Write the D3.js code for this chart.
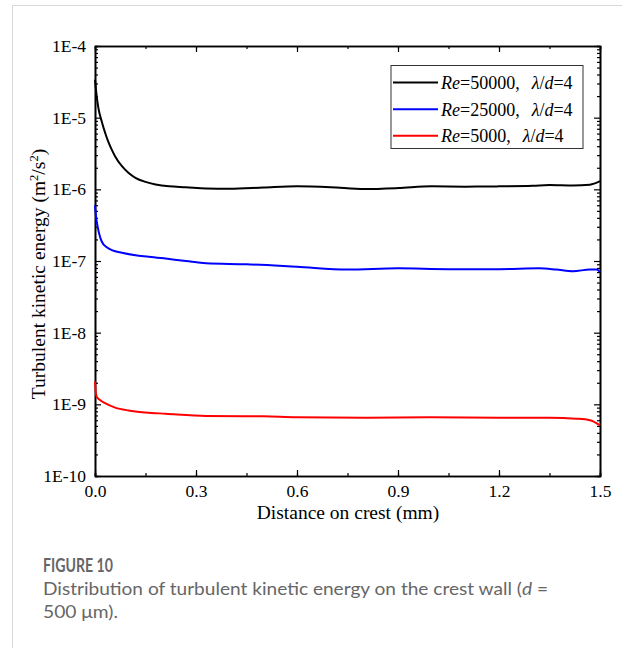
<!DOCTYPE html>
<html><head><meta charset="utf-8">
<script src="https://cdn.jsdelivr.net/npm/d3@7/dist/d3.min.js"></script>
<style>body{margin:0;background:#fff}svg{display:block}</style>
</head><body>
<script>
// ---- data ----
const xBlack = [0, 0.005, 0.01, 0.02, 0.03, 0.04, 0.05, 0.06, 0.08, 0.10, 0.12, 0.15, 0.18, 0.22, 0.27, 0.33, 0.4, 0.5, 0.6, 0.7, 0.8, 0.9, 1.0, 1.1, 1.2, 1.3, 1.35, 1.42, 1.47, 1.5];
const yBlack = [3.4e-5, 2.0e-5, 1.37e-5, 8.85e-6, 6.16e-6, 4.55e-6, 3.55e-6, 2.88e-6, 2.1e-6, 1.69e-6, 1.45e-6, 1.27e-6, 1.17e-6, 1.1e-6, 1.07e-6, 1.03e-6, 1.02e-6, 1.06e-6, 1.1e-6, 1.07e-6, 1.01e-6, 1.04e-6, 1.1e-6, 1.09e-6, 1.1e-6, 1.12e-6, 1.15e-6, 1.13e-6, 1.16e-6, 1.3e-6];
const xBlue = [0, 0.003, 0.008, 0.02, 0.035, 0.05, 0.08, 0.12, 0.16, 0.21, 0.27, 0.33, 0.45, 0.6, 0.75, 0.9, 1.05, 1.2, 1.32, 1.37, 1.42, 1.47, 1.49, 1.5];
const yBlue = [6.0e-7, 4.2e-7, 3.0e-7, 1.87e-7, 1.55e-7, 1.42e-7, 1.3e-7, 1.2e-7, 1.15e-7, 1.08e-7, 1.0e-7, 9.3e-8, 9.0e-8, 8.3e-8, 7.6e-8, 7.9e-8, 7.7e-8, 7.7e-8, 7.9e-8, 7.6e-8, 7.2e-8, 7.6e-8, 7.6e-8, 7.0e-8];
const xRed = [0, 0.002, 0.005, 0.015, 0.03, 0.06, 0.1, 0.15, 0.21, 0.33, 0.5, 0.6, 0.8, 1.0, 1.2, 1.35, 1.43, 1.47, 1.5];
const yRed = [2.1e-9, 1.5e-9, 1.28e-9, 1.15e-9, 1.04e-9, 9.0e-10, 8.2e-10, 7.7e-10, 7.4e-10, 6.9e-10, 6.8e-10, 6.6e-10, 6.5e-10, 6.6e-10, 6.5e-10, 6.5e-10, 6.3e-10, 6.0e-10, 5.1e-10];
const seriesNames = ["50000", "25000", "5000"];
const seriesColors = ["#000000", "#0000ff", "#ff0000"];
const xTicks = [0, 0.3, 0.6, 0.9, 1.2, 1.5];
const xTickLabels = ["0.0", "0.3", "0.6", "0.9", "1.2", "1.5"];
const yTicks = [1e-10, 1e-9, 1e-8, 1e-7, 1e-6, 1e-5, 1e-4];
const yTickLabels = ["1E-10", "1E-9", "1E-8", "1E-7", "1E-6", "1E-5", "1E-4"];

const W = 622, H = 648;
const svg = d3.select("body").append("svg").attr("width", W).attr("height", H);

// page card borders
svg.append("line").attr("x1", 12).attr("x2", W).attr("y1", 5.5).attr("y2", 5.5).attr("stroke", "#d8d8d8").attr("stroke-width", 1);
svg.append("line").attr("x1", 12.5).attr("x2", 12.5).attr("y1", 5).attr("y2", H).attr("stroke", "#d8d8d8").attr("stroke-width", 1);

const L = 95, R = 600, T = 46, B = 476;
const x = d3.scaleLinear().domain([0, 1.5]).range([L, R]);
const y = d3.scaleLog().domain([1e-10, 1e-4]).range([B, T]);

const serif = "'Liberation Serif','Times New Roman',serif";

// minor ticks
const xMinor = d3.range(0, 1.5001, 0.15);
const yMinor = [];
for (let e = -10; e < -4; e++) for (let m = 2; m <= 9; m++) yMinor.push(m * Math.pow(10, e));

const g = svg.append("g");
const axB = d3.axisBottom(x).tickValues(xTicks).tickSizeInner(-6).tickSizeOuter(0).tickFormat((d, i) => xTickLabels[i]).tickPadding(9);
const axT = d3.axisTop(x).tickValues(xTicks).tickSizeInner(-6).tickSizeOuter(0).tickFormat("");
const axL = d3.axisLeft(y).tickValues(yTicks).tickSizeInner(-6).tickSizeOuter(0).tickFormat((d, i) => yTickLabels[i]).tickPadding(9);
const axR = d3.axisRight(y).tickValues(yTicks).tickSizeInner(-6).tickSizeOuter(0).tickFormat("");
const mB = d3.axisBottom(x).tickValues(xMinor).tickSize(-3).tickFormat("");
const mT = d3.axisTop(x).tickValues(xMinor).tickSize(-3).tickFormat("");
const mL = d3.axisLeft(y).tickValues(yMinor).tickSize(-3).tickFormat("");
const mR = d3.axisRight(y).tickValues(yMinor).tickSize(-3).tickFormat("");

function styleAx(sel) {
  sel.selectAll("path").attr("stroke", "#000").attr("stroke-width", 1.6);
  sel.selectAll("line").attr("stroke", "#000").attr("stroke-width", 1.3);
  sel.selectAll("text").attr("font-family", serif).attr("font-size", 17.5).attr("fill", "#000");
}

// curves
const xs = [xBlack, xBlue, xRed], ys = [yBlack, yBlue, yRed];
const line = d3.line().x(d => x(d[0])).y(d => y(d[1])).curve(d3.curveMonotoneX);
const cg = svg.append("g");
for (let s = 2; s >= 0; s--) {
  const pts = xs[s].map((v, i) => [v, ys[s][i]]);
  cg.append("path").attr("d", line(pts)).attr("fill", "none").attr("stroke", seriesColors[s]).attr("stroke-width", 2);
}

styleAx(g.append("g").attr("transform", `translate(0,${B})`).call(mB));
styleAx(g.append("g").attr("transform", `translate(0,${T})`).call(mT));
styleAx(g.append("g").attr("transform", `translate(${L},0)`).call(mL));
styleAx(g.append("g").attr("transform", `translate(${R},0)`).call(mR));
styleAx(g.append("g").attr("transform", `translate(0,${B})`).call(axB));
styleAx(g.append("g").attr("transform", `translate(0,${T})`).call(axT));
styleAx(g.append("g").attr("transform", `translate(${L},0)`).call(axL));
styleAx(g.append("g").attr("transform", `translate(${R},0)`).call(axR));
g.selectAll(".tick line").attr("stroke-width", 1.2);

// axis titles
svg.append("text").attr("x", 348).attr("y", 519).attr("text-anchor", "middle")
  .attr("font-family", serif).attr("font-size", 19.5).text("Distance on crest (mm)");
const yl = svg.append("text").attr("transform", `translate(45,274) rotate(-90)`).attr("text-anchor", "middle")
  .attr("font-family", serif).attr("font-size", 19.5);
yl.append("tspan").text("Turbulent kinetic energy (m");
yl.append("tspan").attr("dy", -7).attr("font-size", 12.5).text("2");
yl.append("tspan").attr("dy", 7).text("/s");
yl.append("tspan").attr("dy", -7).attr("font-size", 12.5).text("2");
yl.append("tspan").attr("dy", 7).text(")");

// legend
const lg = svg.append("g");
lg.append("rect").attr("x", 391).attr("y", 65.5).attr("width", 192).attr("height", 83)
  .attr("fill", "#fff").attr("stroke", "#333").attr("stroke-width", 1);
seriesNames.forEach((n, i) => {
  const yy = 82.6 + i * 26.6;
  lg.append("line").attr("x1", 393).attr("x2", 438).attr("y1", yy).attr("y2", yy).attr("stroke", seriesColors[i]).attr("stroke-width", 2);
  const t = lg.append("text").attr("x", 441).attr("y", yy + 6.6).attr("font-family", serif).attr("font-size", 18).attr("fill", "#000");
  t.append("tspan").attr("font-style", "italic").text("Re");
  t.append("tspan").text("=" + n + ",");
  t.append("tspan").attr("dx", 12).attr("font-style", "italic").text("λ");
  t.append("tspan").text("/");
  t.append("tspan").attr("font-style", "italic").text("d");
  t.append("tspan").text("=4");
});

// caption
const sans = "Lato,'Open Sans','Noto Sans',sans-serif";
svg.append("text").attr("x", 43).attr("y", 572).attr("font-family", sans).attr("font-weight", "bold")
  .attr("font-size", 18).attr("fill", "#666").attr("textLength", 70).attr("lengthAdjust", "spacingAndGlyphs").text("FIGURE 10");
const c1 = svg.append("text").attr("x", 43).attr("y", 595).attr("font-family", sans).attr("font-size", 18).attr("fill", "#666")
  .attr("textLength", 505).attr("lengthAdjust", "spacingAndGlyphs");
c1.append("tspan").text("Distribution of turbulent kinetic energy on the crest wall (");
c1.append("tspan").attr("font-style", "italic").text("d");
c1.append("tspan").text(" =");
svg.append("text").attr("x", 43).attr("y", 618).attr("font-family", sans).attr("font-size", 18).attr("fill", "#666")
  .attr("textLength", 75).attr("lengthAdjust", "spacingAndGlyphs").text("500 μm).");
</script>
</body></html>
